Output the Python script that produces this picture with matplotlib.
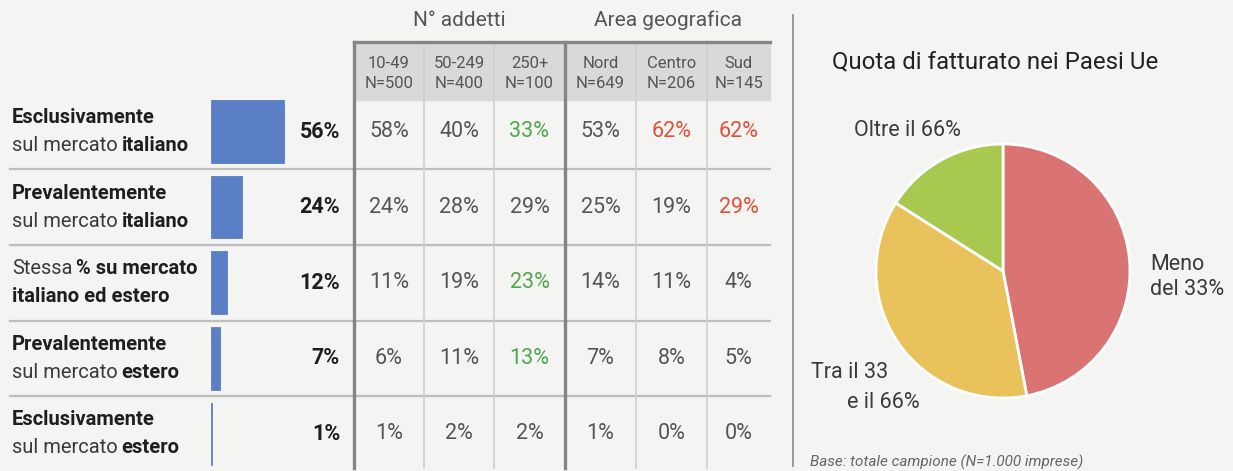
import matplotlib
matplotlib.use("Agg")
import matplotlib.pyplot as plt
from matplotlib import font_manager as fm

# ---- data ----
row_lines = [
    [[("Esclusivamente", "bold")], [("sul mercato", "normal"), ("italiano", "bold")]],
    [[("Prevalentemente", "bold")], [("sul mercato", "normal"), ("italiano", "bold")]],
    [[("Stessa", "normal"), ("% su mercato", "bold")], [("italiano ed estero", "bold")]],
    [[("Prevalentemente", "bold")], [("sul mercato", "normal"), ("estero", "bold")]],
    [[("Esclusivamente", "bold")], [("sul mercato", "normal"), ("estero", "bold")]],
]
totale = [56, 24, 12, 7, 1]
col_names = ["10-49", "50-249", "250+", "Nord", "Centro", "Sud"]
col_n = [500, 400, 100, 649, 206, 145]
groups = ["N° addetti", "Area geografica"]
table = {
    "10-49": [58, 24, 11, 6, 1],
    "50-249": [40, 28, 19, 11, 2],
    "250+": [33, 29, 23, 13, 2],
    "Nord": [53, 25, 14, 7, 1],
    "Centro": [62, 19, 11, 8, 0],
    "Sud": [62, 29, 4, 5, 0],
}
# highlighted cells: (column, row) -> kind
highlight = {("250+", 0): "green", ("250+", 2): "green", ("250+", 3): "green",
             ("Centro", 0): "red", ("Sud", 0): "red", ("Sud", 1): "red"}
pie_labels = ["Meno\ndel 33%", "Tra il 33\ne il 66%", "Oltre il 66%"]
pie_values = [47, 37, 16]
pie_title = "Quota di fatturato nei Paesi Ue"
footnote = "Base: totale campione (N=1.000 imprese)"

# ---- fonts ----
def pick(names):
    for n in names:
        try:
            fm.findfont(fm.FontProperties(family=n), fallback_to_default=False)
            return n
        except Exception:
            pass
    return "DejaVu Sans"

FONT = pick(["Roboto", "DejaVu Sans"])
plt.rcParams["font.family"] = [FONT, "DejaVu Sans"]

BG = "#f4f4f2"
BAR = "#5b7fc4"
TXT = "#1e1e1e"
NUM = "#555555"
GREEN = "#4fa84f"
RED = "#e0503a"
W, H = 1233, 471

fig = plt.figure(figsize=(W / 100, H / 100), dpi=100, facecolor=BG)
ax = fig.add_axes([0, 0, 1, 1])
ax.set_xlim(0, W)
ax.set_ylim(H, 0)
ax.axis("off")
renderer = fig.canvas.get_renderer()

row_c0, pitch = 131.5, 75.6
row_y = [row_c0 + i * pitch for i in range(len(totale))]

# ---- bars ----
bax = fig.add_axes([211 / W, 1 - (row_c0 + 4.5 * pitch) / H, 130 / W, 5 * pitch / H])
bax.barh(range(len(totale)), totale, height=0.83, color=BAR, edgecolor=BAR, lw=0.6)
bax.set_xlim(0, 100)
bax.set_ylim(4.5, -0.5)
bax.axis("off")

# ---- row labels ----
def runs(x, y, parts, size):
    for txt, wt in parts:
        t = ax.text(x, y, txt, fontsize=size, fontweight=wt,
                    color=TXT if wt == "bold" else "#3a3a3a",
                    ha="left", va="center")
        x += t.get_window_extent(renderer).width + 4

LBL = 14.5
for i, lines in enumerate(row_lines):
    runs(12, row_y[i] - 14, lines[0], LBL)
    runs(12, row_y[i] + 14, lines[1], LBL)
    ax.text(340, row_y[i], f"{totale[i]}%", fontsize=15.5, fontweight="bold",
            color=TXT, ha="right", va="center")

# ---- row separators ----
for i in range(len(totale) - 1):
    yb = (row_y[i] + row_y[i + 1]) / 2
    ax.plot([10, 770], [yb, yb], color="#bdbdbd", lw=1.6, zorder=1)

# ---- table ----
col_x = [354, 424, 494, 565, 636, 707, 770]
top, head_bot, bottom = 42, 100, 468
ax.fill_between([354, 770], top, head_bot, color="#d9d9d9", zorder=0)
for j, xv in enumerate(col_x[:-1]):
    thick = j in (0, 3)
    ax.plot([xv, xv], [top, bottom], color="#858585" if thick else "#cfcfcf",
            lw=2.4 if thick else 1.2, zorder=2)
ax.plot([354, 770], [top, top], color="#858585", lw=2.4, zorder=2)

colors = {"green": GREEN, "red": RED}
for j, name in enumerate(col_names):
    cx = (col_x[j] + col_x[j + 1]) / 2
    ax.text(cx, 63, name, fontsize=12, color=NUM, ha="center", va="center")
    ax.text(cx, 84, f"N={col_n[j]}", fontsize=12, color=NUM, ha="center",
            va="center")
    for i, v in enumerate(table[name]):
        c = colors.get(highlight.get((name, i)), NUM)
        ax.text(cx, row_y[i], f"{v}%", fontsize=15.5, color=c, ha="center",
                va="center")

ax.text((col_x[0] + col_x[3]) / 2, 20, groups[0], fontsize=15, color=NUM,
        ha="center", va="center")
ax.text((col_x[3] + col_x[6]) / 2, 20, groups[1], fontsize=15, color=NUM,
        ha="center", va="center")

# divider between table and pie
ax.plot([793, 793], [15, 466], color="#9a9a9a", lw=1.4)

# ---- pie ----
pcx, pcy, R = 1003, 271, 127
pax = fig.add_axes([(pcx - R) / W, 1 - (pcy + R) / H, 2 * R / W, 2 * R / H])
pax.pie(pie_values, colors=["#d97472", "#e9c25c", "#a8c84f"],
        startangle=90, counterclock=False,
        wedgeprops=dict(edgecolor="white", linewidth=2))
pax.set_xlim(-1, 1)
pax.set_ylim(-1, 1)
pax.set_aspect("equal")

pct_pos = [(1094, 273), (950, 358), (962, 190)]
for (px, py), v in zip(pct_pos, pie_values):
    ax.text(px, py, f"{v}%", fontsize=15.5, color="#4a4a4a", ha="center",
            va="center")

PL = 15.5
LC = "#3a3a3a"
ax.text(1150, 277, pie_labels[0], fontsize=PL, color=LC, ha="left",
        va="center", linespacing=1.3)
tra1, tra2 = pie_labels[1].split("\n")
ax.text(850, 372, tra1, fontsize=PL, color=LC, ha="center", va="center")
ax.text(883, 403, tra2, fontsize=PL, color=LC, ha="center", va="center")
ax.text(907, 130, pie_labels[2], fontsize=PL, color=LC, ha="center", va="center")

ax.text(832, 62, pie_title, fontsize=17.3, color="#222222", ha="left", va="center")
ax.text(810, 462, footnote, fontsize=11, color="#666666", style="italic",
        ha="left", va="center")

fig.savefig("out.png", dpi=100, facecolor=BG)
